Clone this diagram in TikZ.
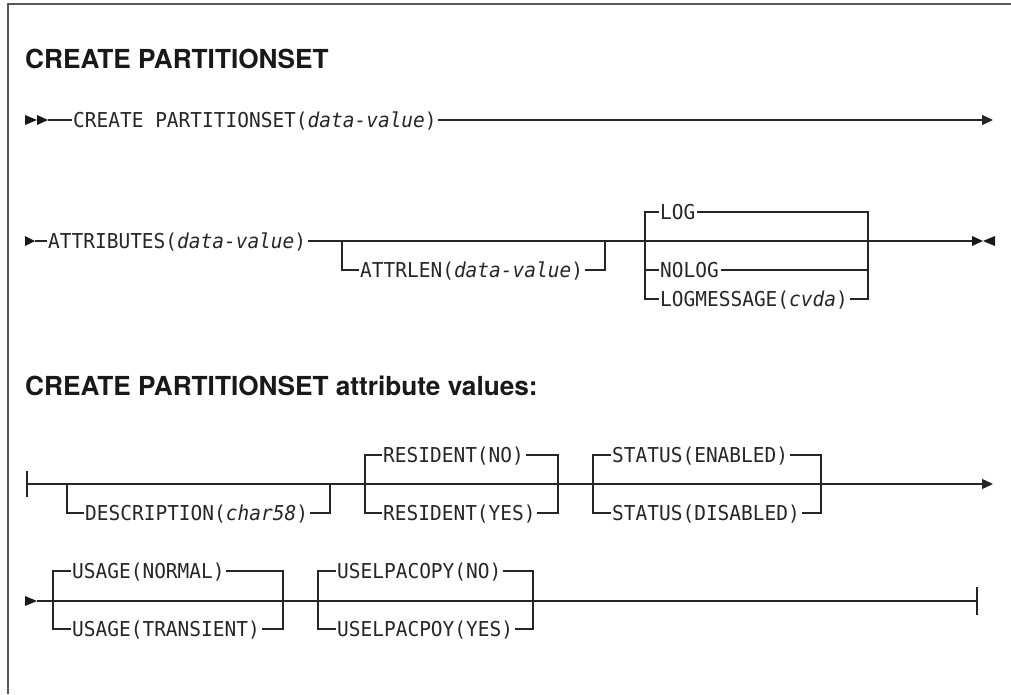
\documentclass[tikz,border=0pt]{standalone}
\usepackage{fontspec}
\setmainfont{TeX Gyre Heros}
\newfontfamily\monofam[FakeStretch=0.95]{DejaVu Sans Mono}
\usetikzlibrary{arrows.meta}
\begin{document}
\begin{tikzpicture}[x=1pt,y=-1pt,
  rr/.style={line width=1.1pt, draw=black!85},
  tick/.style={line width=1.7pt, draw=black!85},
  frame/.style={line width=1.4pt, draw=black!65},
  tipfill/.style={fill=black!90},
  kw/.style={font=\monofam\fontsize{20.5}{24}\selectfont, inner xsep=1.5pt, inner ysep=0pt,
             text height=15pt, text depth=0pt, anchor=west, text=black!85},
  ttl/.style={font=\bfseries\fontsize{26.2}{30}\selectfont, inner sep=0pt, anchor=base west, text=black!90},
  endarrow/.style={-{Triangle[length=11pt,width=10pt]}}]
\useasboundingbox (0,0) rectangle (1011,694);
\draw[frame] (1011,4) -- (8,4) -- (8,694);

% titles
\node[ttl] (title1) at (25,68) {CREATE PARTITIONSET};
\node[ttl] (title2) at (25,395) {CREATE PARTITIONSET attribute values:};

% ---------- row 1 ----------
\coordinate (r1s) at (48,120);
\coordinate (r1e) at (993,120);
\fill[tipfill] (25,115) -- (37,120) -- (25,125) -- cycle;
\fill[tipfill] (37,115) -- (48,120) -- (37,125) -- cycle;
\node[kw] (create) at (71.5,120) {CREATE PARTITIONSET(\textit{data-value})};
\draw[rr] (r1s) -- (create.west);
\draw[rr,endarrow] (create.east) -- (r1e);

% ---------- row 2 ----------
\coordinate (r2s) at (35,241);
\coordinate (r2e) at (972,241);
\fill[tipfill] (25,236) -- (35,241) -- (25,246) -- cycle;
\node[kw] (attr) at (46.5,241) {ATTRIBUTES(\textit{data-value})};
\draw[rr] (r2s) -- (attr.west);
\draw[rr] (attr.east) -- (r2e);
\draw[tick] (876,241) -- (897,241);
\fill[tipfill] (972,236) -- (983,241) -- (972,246) -- cycle;
\fill[tipfill] (995,236) -- (983,241) -- (995,246) -- cycle;
% ATTRLEN
\coordinate (al1) at (342,241);
\coordinate (al2) at (342,270);
\coordinate (ar1) at (605,241);
\coordinate (ar2) at (605,270);
\node[kw] (attrlen) at (358.5,270) {ATTRLEN(\textit{data-value})};
\draw[rr] (al1) -- (al2) -- (attrlen.west);
\draw[rr] (attrlen.east) -- (ar2) -- (ar1);
% LOG group
\coordinate (gl1) at (645,212);
\coordinate (gl2) at (645,270);
\coordinate (gl3) at (645,299);
\coordinate (gr1) at (868,212);
\coordinate (gr2) at (868,270);
\coordinate (gr3) at (868,299);
\node[kw] (log) at (658.5,212) {LOG};
\node[kw] (nolog) at (658.5,270) {NOLOG};
\node[kw] (logmsg) at (658.5,299) {LOGMESSAGE(\textit{cvda})};
\draw[rr] (log.west) -- (gl1) -- (gl3) -- (logmsg.west);
\draw[rr] (gl2) -- (nolog.west);
\draw[rr] (log.east) -- (gr1) -- (gr3) -- (logmsg.east);
\draw[rr] (nolog.east) -- (gr2);

% ---------- row 3 ----------
\coordinate (r3s) at (27,484);
\coordinate (r3e) at (993,484);
\draw[rr] (27,471) -- (27,497);
\draw[tick] (35,484) -- (42,484);
% DESCRIPTION
\coordinate (dl1) at (67,484);
\coordinate (dl2) at (67,513);
\coordinate (dr1) at (330,484);
\coordinate (dr2) at (330,513);
\node[kw] (descr) at (83.5,513) {DESCRIPTION(\textit{char58})};
\draw[rr] (dl1) -- (dl2) -- (descr.west);
\draw[rr] (descr.east) -- (dr2) -- (dr1);
% RESIDENT
\coordinate (rl1) at (365,455);
\coordinate (rl2) at (365,513);
\coordinate (rrt1) at (558,455);
\coordinate (rrt2) at (558,513);
\node[kw] (resno) at (381.5,455) {RESIDENT(NO)};
\node[kw] (resyes) at (381.5,513) {RESIDENT(YES)};
\draw[rr] (resno.west) -- (rl1) -- (rl2) -- (resyes.west);
\draw[rr] (resno.east) -- (rrt1) -- (rrt2) -- (resyes.east);
% STATUS
\coordinate (sl1) at (593,455);
\coordinate (sl2) at (593,513);
\coordinate (sr1) at (821,455);
\coordinate (sr2) at (821,513);
\node[kw] (sten) at (610.5,455) {STATUS(ENABLED)};
\node[kw] (stdis) at (610.5,513) {STATUS(DISABLED)};
\draw[rr] (sten.west) -- (sl1) -- (sl2) -- (stdis.west);
\draw[rr] (sten.east) -- (sr1) -- (sr2) -- (stdis.east);
% main line row 3
\draw[rr,endarrow] (r3s) -- (r3e);

% ---------- row 4 ----------
\coordinate (r4s) at (37,601);
\coordinate (r4e) at (977,601);
\fill[tipfill] (25,596) -- (37,601) -- (25,606) -- cycle;
% USAGE
\coordinate (ul1) at (53,571);
\coordinate (ul2) at (53,629);
\coordinate (ur1) at (283,571);
\coordinate (ur2) at (283,629);
\node[kw] (usnorm) at (70.5,571) {USAGE(NORMAL)};
\node[kw] (ustrans) at (70.5,629) {USAGE(TRANSIENT)};
\draw[rr] (usnorm.west) -- (ul1) -- (ul2) -- (ustrans.west);
\draw[rr] (usnorm.east) -- (ur1) -- (ur2) -- (ustrans.east);
% USELPACOPY
\coordinate (pl1) at (318,571);
\coordinate (pl2) at (318,629);
\coordinate (pr1) at (533,571);
\coordinate (pr2) at (533,629);
\node[kw] (upno) at (335.5,571) {USELPACOPY(NO)};
\node[kw] (upyes) at (335.5,629) {USELPACPOY(YES)};
\draw[rr] (upno.west) -- (pl1) -- (pl2) -- (upyes.west);
\draw[rr] (upno.east) -- (pr1) -- (pr2) -- (upyes.east);
% main line row 4
\draw[rr] (r4s) -- (r4e);
\draw[tick] (540,601) -- (563,601);
\draw[rr] (977,587) -- (977,615);
\end{tikzpicture}
\end{document}
